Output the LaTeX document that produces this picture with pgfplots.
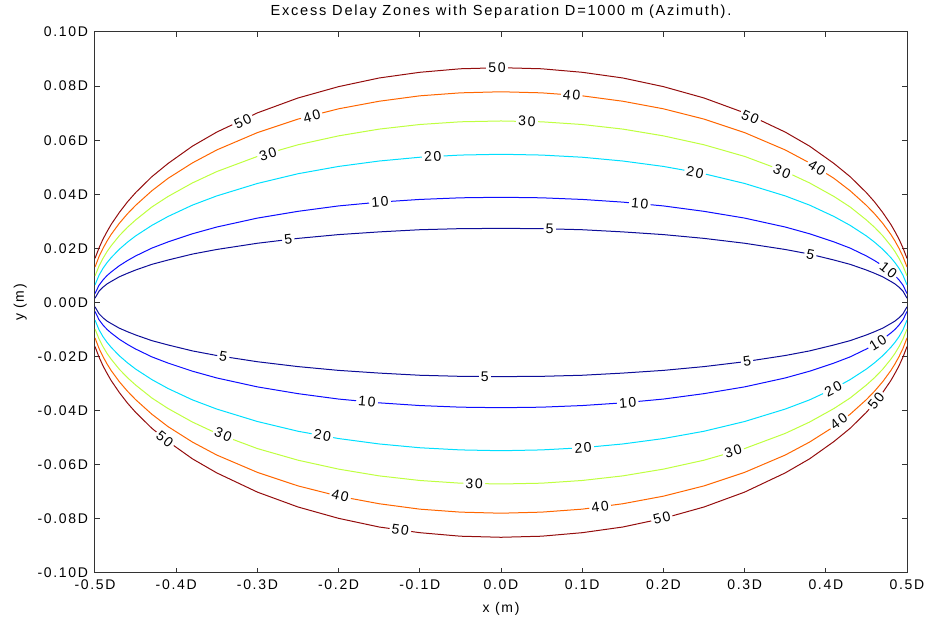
\documentclass[border=0pt]{standalone}
\usepackage{fontspec}
\setmainfont{Liberation Sans}[LetterSpace=12]
\usepackage{pgfplots}
\pgfplotsset{compat=1.18}
\usepackage{pgfplotstable}

\definecolor{c5}{rgb}{0.05,0.05,0.6}
\definecolor{c10}{rgb}{0.05,0.05,1}
\definecolor{c20}{rgb}{0,0.875,1}
\definecolor{c30}{rgb}{0.75,1,0.25}
\definecolor{c40}{rgb}{1,0.4,0}
\definecolor{c50}{rgb}{0.58,0.05,0.05}

% upper halves of the contours
\pgfplotstableread{
x u5 u10 u20 u30 u40 u50
-0.5 .0016 .0033 .0065 .0098 .0131 .0163
-0.495 .0042 .0064 .0101 .0135 .0170 .0202
-0.49 .0057 .0084 .0127 .0164 .0201 .0235
-0.485 .0069 .0100 .0148 .0189 .0228 .0263
-0.48 .0078 .0113 .0166 .0210 .0252 .0289
-0.47 .0095 .0136 .0197 .0247 .0293 .0333
-0.46 .0108 .0155 .0223 .0278 .0328 .0372
-0.45 .0120 .0172 .0246 .0305 .0359 .0406
-0.43 .0141 .0201 .0285 .0353 .0413 .0465
-0.41 .0157 .0224 .0318 .0392 .0459 .0514
-0.38 .0179 .0254 .0360 .0442 .0516 .0578
-0.35 .0196 .0279 .0394 .0484 .0564 .0630
-0.3 .0219 .0312 .0440 .0540 .0628 .0701
-0.25 .0237 .0337 .0476 .0583 .0678 .0756
-0.2 .0251 .0357 .0503 .0616 .0716 .0798
-0.15 .0261 .0371 .0523 .0641 .0744 .0830
-0.1 .0269 .0381 .0537 .0658 .0764 .0851
-0.05 .0273 .0387 .0545 .0668 .0775 .0864
0 .0274 .0389 .0548 .0671 .0779 .0868
0.05 .0273 .0387 .0545 .0668 .0775 .0864
0.1 .0269 .0381 .0537 .0658 .0764 .0851
0.15 .0261 .0371 .0523 .0641 .0744 .0830
0.2 .0251 .0357 .0503 .0616 .0716 .0798
0.25 .0237 .0337 .0476 .0583 .0678 .0756
0.3 .0219 .0312 .0440 .0540 .0628 .0701
0.35 .0196 .0279 .0394 .0484 .0564 .0630
0.38 .0179 .0254 .0360 .0442 .0516 .0578
0.41 .0157 .0224 .0318 .0392 .0459 .0514
0.43 .0141 .0201 .0285 .0353 .0413 .0465
0.45 .0120 .0172 .0246 .0305 .0359 .0406
0.46 .0108 .0155 .0223 .0278 .0328 .0372
0.47 .0095 .0136 .0197 .0247 .0293 .0333
0.48 .0078 .0113 .0166 .0210 .0252 .0289
0.485 .0069 .0100 .0148 .0189 .0228 .0263
0.49 .0057 .0084 .0127 .0164 .0201 .0235
0.495 .0042 .0064 .0101 .0135 .0170 .0202
0.5 .0016 .0033 .0065 .0098 .0131 .0163
}\tabup

% lower halves
\pgfplotstableread{
x l5 l10 l20 l30 l40 l50
-0.5 -.0016 -.0033 -.0065 -.0098 -.0131 -.0163
-0.495 -.0042 -.0064 -.0101 -.0135 -.0170 -.0202
-0.49 -.0057 -.0084 -.0127 -.0164 -.0201 -.0235
-0.485 -.0069 -.0100 -.0148 -.0189 -.0228 -.0263
-0.48 -.0078 -.0113 -.0166 -.0210 -.0252 -.0289
-0.47 -.0095 -.0136 -.0197 -.0247 -.0293 -.0333
-0.46 -.0108 -.0155 -.0223 -.0278 -.0328 -.0372
-0.45 -.0120 -.0172 -.0246 -.0305 -.0359 -.0406
-0.43 -.0141 -.0201 -.0285 -.0353 -.0413 -.0465
-0.41 -.0157 -.0224 -.0318 -.0392 -.0459 -.0514
-0.38 -.0179 -.0254 -.0360 -.0442 -.0516 -.0578
-0.35 -.0196 -.0279 -.0394 -.0484 -.0564 -.0630
-0.3 -.0219 -.0312 -.0440 -.0540 -.0628 -.0701
-0.25 -.0237 -.0337 -.0476 -.0583 -.0678 -.0756
-0.2 -.0251 -.0357 -.0503 -.0616 -.0716 -.0798
-0.15 -.0261 -.0371 -.0523 -.0641 -.0744 -.0830
-0.1 -.0269 -.0381 -.0537 -.0658 -.0764 -.0851
-0.05 -.0273 -.0387 -.0545 -.0668 -.0775 -.0864
0 -.0274 -.0389 -.0548 -.0671 -.0779 -.0868
0.05 -.0273 -.0387 -.0545 -.0668 -.0775 -.0864
0.1 -.0269 -.0381 -.0537 -.0658 -.0764 -.0851
0.15 -.0261 -.0371 -.0523 -.0641 -.0744 -.0830
0.2 -.0251 -.0357 -.0503 -.0616 -.0716 -.0798
0.25 -.0237 -.0337 -.0476 -.0583 -.0678 -.0756
0.3 -.0219 -.0312 -.0440 -.0540 -.0628 -.0701
0.35 -.0196 -.0279 -.0394 -.0484 -.0564 -.0630
0.38 -.0179 -.0254 -.0360 -.0442 -.0516 -.0578
0.41 -.0157 -.0224 -.0318 -.0392 -.0459 -.0514
0.43 -.0141 -.0201 -.0285 -.0353 -.0413 -.0465
0.45 -.0120 -.0172 -.0246 -.0305 -.0359 -.0406
0.46 -.0108 -.0155 -.0223 -.0278 -.0328 -.0372
0.47 -.0095 -.0136 -.0197 -.0247 -.0293 -.0333
0.48 -.0078 -.0113 -.0166 -.0210 -.0252 -.0289
0.485 -.0069 -.0100 -.0148 -.0189 -.0228 -.0263
0.49 -.0057 -.0084 -.0127 -.0164 -.0201 -.0235
0.495 -.0042 -.0064 -.0101 -.0135 -.0170 -.0202
0.5 -.0016 -.0033 -.0065 -.0098 -.0131 -.0163
}\tabdn

% contour label: x, y, angle, text
\newcommand{\clab}[4]{\node[rotate=#3, fill=white, inner xsep=1.1pt, inner ysep=0pt] at (axis cs:#1,#2) {#4};}

\begin{document}
\begin{tikzpicture}
\useasboundingbox (-47.5pt,-23pt) rectangle (418.5pt,286.5pt);
\begin{axis}[
  scale only axis, width=406pt, height=270.5pt,
  xmin=-0.5, xmax=0.5, ymin=-0.1, ymax=0.1,
  font=\fontsize{7}{8}\selectfont,
  axis line style={black!80, line width=0.5pt},
  tick style={black!80, line width=0.5pt},
  tick align=inside, major tick length=2.5pt,
  xtick={-0.5,-0.4,-0.3,-0.2,-0.1,0,0.1,0.2,0.3,0.4,0.5},
  xticklabels={-0.5D,-0.4D,-0.3D,-0.2D,-0.1D,0.0D,0.1D,0.2D,0.3D,0.4D,0.5D},
  ytick={-0.1,-0.08,-0.06,-0.04,-0.02,0,0.02,0.04,0.06,0.08,0.1},
  yticklabels={-0.10D,-0.08D,-0.06D,-0.04D,-0.02D,0.00D,0.02D,0.04D,0.06D,0.08D,0.10D},
  xlabel={x (m)}, ylabel={y (m)},
  xlabel style={yshift=0.8pt},
  ylabel style={yshift=-1.5pt},
  title={Excess Delay Zones with Separation D=1000 m (Azimuth).},
  title style={font=\fontsize{7.3}{8}\selectfont, yshift=-3pt},
  every axis plot/.append style={line width=0.5pt},
  clip=true,
]
\addplot[c5] table[x=x,y=u5] {\tabup};
\addplot[c10] table[x=x,y=u10] {\tabup};
\addplot[c20] table[x=x,y=u20] {\tabup};
\addplot[c30] table[x=x,y=u30] {\tabup};
\addplot[c40] table[x=x,y=u40] {\tabup};
\addplot[c50] table[x=x,y=u50] {\tabup};
\addplot[c5] table[x=x,y=l5] {\tabdn};
\addplot[c10] table[x=x,y=l10] {\tabdn};
\addplot[c20] table[x=x,y=l20] {\tabdn};
\addplot[c30] table[x=x,y=l30] {\tabdn};
\addplot[c40] table[x=x,y=l40] {\tabdn};
\addplot[c50] table[x=x,y=l50] {\tabdn};
% upper labels
\clab{-0.318}{0.0670}{25.5}{50}
\clab{-0.005}{0.0868}{0}{50}
\clab{0.307}{0.0685}{-24.2}{50}
\clab{-0.233}{0.0689}{15.3}{40}
\clab{0.087}{0.0767}{-5.2}{40}
\clab{0.389}{0.0498}{-31.4}{40}
\clab{-0.287}{0.0549}{17.4}{30}
\clab{0.032}{0.0670}{-1.6}{30}
\clab{0.346}{0.0484}{-23.2}{30}
\clab{-0.084}{0.0540}{3.6}{20}
\clab{0.239}{0.0481}{-11.2}{20}
\clab{-0.149}{0.0371}{4.6}{10}
\clab{0.171}{0.0366}{-5.4}{10}
\clab{0.477}{0.0121}{-38.3}{10}
\clab{-0.262}{0.0233}{6.4}{5}
\clab{0.060}{0.0272}{-1.3}{5}
\clab{0.381}{0.0177}{-12.1}{5}
% lower labels
\clab{-0.342}{-0.0200}{-9.7}{5}
\clab{-0.020}{-0.0274}{0}{5}
\clab{0.303}{-0.0218}{7.9}{5}
\clab{-0.165}{-0.0367}{-5.2}{10}
\clab{0.156}{-0.0370}{4.9}{10}
\clab{0.464}{-0.0148}{32}{10}
\clab{-0.220}{-0.0492}{-10.1}{20}
\clab{0.101}{-0.0537}{4.3}{20}
\clab{0.409}{-0.0320}{26.8}{20}
\clab{-0.342}{-0.0489}{-22.7}{30}
\clab{-0.033}{-0.0670}{-1.7}{30}
\clab{0.286}{-0.0550}{17.3}{30}
\clab{-0.198}{-0.0715}{-12.6}{40}
\clab{0.122}{-0.0755}{7.4}{40}
\clab{0.416}{-0.0440}{36.3}{40}
\clab{-0.414}{-0.0505}{-38.5}{50}
\clab{-0.124}{-0.0841}{-8.4}{50}
\clab{0.198}{-0.0797}{14.0}{50}
\clab{0.462}{-0.0364}{50.8}{50}
\end{axis}
\end{tikzpicture}
\end{document}
